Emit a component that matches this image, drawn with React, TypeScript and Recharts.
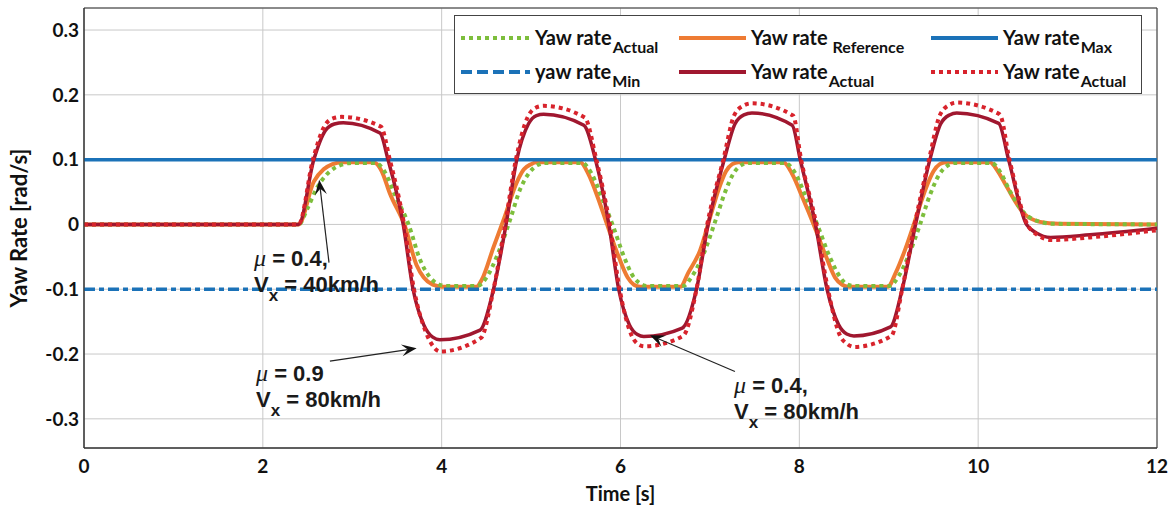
import React from 'react';
import {
    LineChart,
    Line,
    XAxis,
    YAxis,
    CartesianGrid,
    ReferenceLine,
    ReferenceArea,
} from 'recharts';

// ---- axes ----
const xTicks = [0, 2, 4, 6, 8, 10, 12];
const yTicks = [-0.3, -0.2, -0.1, 0, 0.1, 0.2, 0.3];
const yDomain = [-0.345, 0.334];

// ---- limits ----
const limitTime = [0, 12];
const maxRate = [0.1, 0.1];
const minRate = [-0.1, -0.1];

// ---- reference yaw rate (orange) ----
const refTime = [0, 2.4, 2.57, 2.68, 2.78, 2.88, 3.24, 3.33, 3.42, 3.59, 3.72, 3.8, 3.9, 4.0, 4.39, 4.45, 4.58, 4.7, 4.84, 4.92, 5.0, 5.06, 5.55, 5.64, 5.75, 5.85, 5.98, 6.08, 6.15, 6.22, 6.67, 6.76, 6.89, 7.0, 7.1, 7.18, 7.25, 7.32, 7.82, 7.92, 8.04, 8.16, 8.3, 8.4, 8.48, 8.55, 8.99, 9.08, 9.18, 9.28, 9.4, 9.5, 9.57, 9.64, 10.13, 10.22, 10.32, 10.51, 10.69, 10.9, 12];
const refRate = [0, 0, 0.066, 0.085, 0.093, 0.096, 0.096, 0.082, 0.048, -0.003, -0.063, -0.082, -0.093, -0.096, -0.096, -0.085, -0.035, 0.01, 0.065, 0.085, 0.093, 0.096, 0.096, 0.078, 0.04, 0.0, -0.05, -0.082, -0.093, -0.096, -0.096, -0.074, -0.04, 0.01, 0.055, 0.082, 0.093, 0.096, 0.096, 0.078, 0.04, 0.0, -0.05, -0.082, -0.093, -0.096, -0.096, -0.074, -0.04, 0.0, 0.05, 0.082, 0.093, 0.096, 0.096, 0.082, 0.058, 0.017, 0.004, 0.001, 0];

// ---- actual, mu 0.4 / 40 km/h (green dotted) ----
const greenTime = [0, 2.4, 2.5, 2.6, 2.7, 2.8, 2.9, 3.0, 3.26, 3.36, 3.48, 3.63, 3.76, 3.86, 3.96, 4.05, 4.4, 4.5, 4.63, 4.76, 4.88, 4.98, 5.08, 5.16, 5.57, 5.67, 5.79, 5.91, 6.04, 6.14, 6.23, 6.3, 6.7, 6.8, 6.93, 7.06, 7.17, 7.26, 7.36, 7.45, 7.84, 7.95, 8.08, 8.2, 8.34, 8.45, 8.54, 8.62, 9.01, 9.11, 9.23, 9.35, 9.46, 9.56, 9.66, 9.75, 10.15, 10.25, 10.36, 10.5, 10.65, 10.85, 12];
const greenRate = [0, 0, 0.025, 0.055, 0.075, 0.087, 0.093, 0.095, 0.095, 0.082, 0.045, 0.0, -0.055, -0.08, -0.092, -0.095, -0.095, -0.082, -0.045, 0.005, 0.055, 0.08, 0.092, 0.095, 0.095, 0.08, 0.042, 0.0, -0.05, -0.08, -0.092, -0.095, -0.095, -0.08, -0.045, 0.005, 0.05, 0.078, 0.092, 0.095, 0.095, 0.08, 0.04, 0.0, -0.05, -0.08, -0.093, -0.095, -0.095, -0.08, -0.045, 0.0, 0.045, 0.076, 0.091, 0.095, 0.095, 0.08, 0.05, 0.02, 0.006, 0.001, 0];

// ---- actual, mu 0.9 / 80 km/h (dark red) ----
const darkTime = [0, 2.4, 2.57, 2.7, 2.8, 2.9, 3.31, 3.4, 3.57, 3.68, 3.8, 3.9, 3.98, 4.43, 4.58, 4.72, 4.84, 4.97, 5.06, 5.14, 5.59, 5.72, 5.87, 5.98, 6.1, 6.19, 6.26, 6.69, 6.85, 6.98, 7.16, 7.28, 7.38, 7.47, 7.92, 8.01, 8.18, 8.31, 8.44, 8.53, 8.61, 9.02, 9.15, 9.3, 9.46, 9.58, 9.68, 9.76, 10.23, 10.34, 10.54, 10.65, 10.81, 11.25, 12];
const darkRate = [0, 0, 0.1, 0.145, 0.155, 0.157, 0.141, 0.1, 0.0, -0.1, -0.155, -0.174, -0.178, -0.163, -0.1, 0.0, 0.1, 0.155, 0.168, 0.17, 0.153, 0.1, 0.0, -0.1, -0.155, -0.17, -0.173, -0.16, -0.1, 0.0, 0.1, 0.155, 0.169, 0.172, 0.153, 0.1, 0.0, -0.1, -0.155, -0.169, -0.172, -0.158, -0.1, 0.0, 0.1, 0.155, 0.169, 0.172, 0.156, 0.1, 0.0, -0.013, -0.02, -0.016, -0.006];

// ---- actual, mu 0.4 / 80 km/h (red dotted) ----
const redTime = [0, 2.4, 2.56, 2.69, 2.79, 2.88, 3.32, 3.42, 3.58, 3.69, 3.82, 3.91, 3.98, 4.44, 4.58, 4.71, 4.83, 4.96, 5.05, 5.14, 5.6, 5.73, 5.88, 5.99, 6.12, 6.2, 6.27, 6.7, 6.85, 6.97, 7.15, 7.27, 7.37, 7.47, 7.93, 8.02, 8.19, 8.32, 8.45, 8.54, 8.61, 9.03, 9.15, 9.29, 9.45, 9.57, 9.67, 9.76, 10.24, 10.35, 10.55, 10.66, 10.82, 11.25, 12];
const redRate = [0, 0, 0.1, 0.152, 0.164, 0.166, 0.151, 0.1, 0.0, -0.1, -0.165, -0.189, -0.196, -0.175, -0.1, 0.0, 0.1, 0.165, 0.18, 0.183, 0.165, 0.1, 0.0, -0.1, -0.17, -0.185, -0.188, -0.172, -0.1, 0.0, 0.1, 0.168, 0.183, 0.187, 0.168, 0.1, 0.0, -0.1, -0.17, -0.185, -0.189, -0.172, -0.1, 0.0, 0.1, 0.168, 0.184, 0.188, 0.17, 0.1, 0.0, -0.016, -0.024, -0.02, -0.009];

const zip = (ts: number[], vs: number[]) => ts.map((t, i) => ({ t, v: vs[i] }));

const COLORS = {
    green: '#7DBE3C',
    orange: '#EE7B33',
    blue: '#1B72B8',
    dark: '#A0172F',
    red: '#D8232C',
};

const LABEL_FONT = 'Lato, "Open Sans", sans-serif';
const NOTE_FONT = '"Liberation Sans", Arial, sans-serif';

/**
 * Arrow shape for annotation segments
 */
function Arrow(props: any) {
    const { x1, y1, x2, y2 } = props;
    const dx = x2 - x1;
    const dy = y2 - y1;
    const len = Math.sqrt(dx * dx + dy * dy) || 1;
    const ux = dx / len;
    const uy = dy / len;
    const L = 15;
    const Wd = 6;
    const bx = x2 - ux * L;
    const by = y2 - uy * L;
    const nx = x2 - ux * (L * 0.6);
    const ny = y2 - uy * (L * 0.6);
    const pts = [
        `${x2},${y2}`,
        `${bx - uy * Wd},${by + ux * Wd}`,
        `${nx},${ny}`,
        `${bx + uy * Wd},${by - ux * Wd}`,
    ].join(' ');
    return (
        <g>
            <line x1={x1} y1={y1} x2={nx} y2={ny} stroke="#222" strokeWidth={1.2} />
            <polygon points={pts} fill="#111" />
        </g>
    );
}

const arrows = [
    { from: { x: 2.74, y: -0.059 }, to: { x: 2.63, y: 0.069 } },
    { from: { x: 2.75, y: -0.211 }, to: { x: 3.72, y: -0.191 } },
    { from: { x: 7.28, y: -0.227 }, to: { x: 6.33, y: -0.171 } },
];

function Note({ left, top, mu, speed }: { left: number; top: number; mu: string; speed: string }) {
    return (
        <div style={{ position: 'absolute', left, top, fontFamily: NOTE_FONT, fontWeight: 700, fontSize: 22, lineHeight: '26px', color: '#1a1a1a', whiteSpace: 'nowrap' }}>
            <div>
                <span style={{ fontFamily: '"Liberation Serif", serif', fontStyle: 'italic', fontWeight: 400, fontSize: 24 }}>μ</span>
                {` = ${mu}`}
            </div>
            <div>
                V<span style={{ fontSize: 17, position: 'relative', top: 9 }}>x</span>{` = ${speed}`}
            </div>
        </div>
    );
}

function LegendItem({ left, top, lineLen, stroke, dash, width, main, sub }: any) {
    return (
        <div style={{ position: 'absolute', left, top: top - 15, height: 30, display: 'flex', alignItems: 'center', whiteSpace: 'nowrap' }}>
            <svg width={lineLen} height={30}>
                <line x1={0} y1={15} x2={lineLen} y2={15} stroke={stroke} strokeWidth={width} strokeDasharray={dash} />
            </svg>
            <span style={{ marginLeft: 5, fontFamily: LABEL_FONT, fontWeight: 700, fontSize: 20, lineHeight: '30px', color: '#111' }}>
                {main}
                <span style={{ fontSize: 16, position: 'relative', top: 8, marginLeft: 1 }}>{sub}</span>
            </span>
        </div>
    );
}

export default function App() {
    const tick = { fontFamily: LABEL_FONT, fontWeight: 700, fontSize: 19, fill: '#111' };
    return (
        <div style={{ position: 'absolute', left: 0, top: 0, width: 1174, height: 506, background: '#fff' }}>
            <LineChart width={1174} height={506} margin={{ top: 8, right: 17, left: 0, bottom: 0 }}>
                <CartesianGrid stroke="#c8c8c8" strokeWidth={1} />
                <XAxis
                    dataKey="t"
                    type="number"
                    domain={[0, 12]}
                    ticks={xTicks}
                    height={58}
                    tickLine={false}
                    tickSize={0}
                    tickMargin={12}
                    axisLine={{ stroke: '#333' }}
                    tick={tick}
                    label={{ value: 'Time [s]', position: 'insideBottom', offset: 5, style: { fontFamily: LABEL_FONT, fontWeight: 700, fontSize: 20, fill: '#111' } }}
                />
                <YAxis
                    dataKey="v"
                    type="number"
                    domain={yDomain}
                    allowDataOverflow
                    ticks={yTicks}
                    width={84}
                    tickLine={false}
                    tickSize={0}
                    tickMargin={5}
                    axisLine={{ stroke: '#333' }}
                    tick={tick}
                    tickFormatter={(v: number) => (Math.abs(v) < 1e-9 ? '0' : v.toFixed(1))}
                    label={{ value: 'Yaw Rate [rad/s]', angle: -90, position: 'insideLeft', offset: 19, style: { textAnchor: 'middle', fontFamily: LABEL_FONT, fontWeight: 700, fontSize: 22, fill: '#111' } }}
                />
                <ReferenceArea x1={0} x2={12} y1={yDomain[0]} y2={yDomain[1]} fill="none" stroke="#333" strokeWidth={1} ifOverflow="visible" />

                <Line data={zip(refTime, refRate)} dataKey="v" type="monotone" stroke={COLORS.orange} strokeWidth={4} dot={false} isAnimationActive={false} />
                <Line data={zip(greenTime, greenRate)} dataKey="v" type="monotone" stroke={COLORS.green} strokeWidth={4} strokeDasharray="4 4" dot={false} isAnimationActive={false} />
                <Line data={zip(limitTime, maxRate)} dataKey="v" type="linear" stroke={COLORS.blue} strokeWidth={3.5} dot={false} isAnimationActive={false} />
                <Line data={zip(limitTime, minRate)} dataKey="v" type="linear" stroke={COLORS.blue} strokeWidth={3.5} strokeDasharray="11 4 5 4" dot={false} isAnimationActive={false} />
                <Line data={zip(darkTime, darkRate)} dataKey="v" type="monotone" stroke={COLORS.dark} strokeWidth={3.5} dot={false} isAnimationActive={false} />
                <Line data={zip(redTime, redRate)} dataKey="v" type="monotone" stroke={COLORS.red} strokeWidth={4} strokeDasharray="4 4" dot={false} isAnimationActive={false} />

                {arrows.map((a, i) => (
                    <ReferenceLine key={i} segment={[a.from, a.to]} ifOverflow="visible" shape={(p: any) => <Arrow {...p} />} />
                ))}
            </LineChart>

            {/* Legend */}
            <div style={{ position: 'absolute', left: 454, top: 15, width: 688, height: 79, border: '1px solid #444', background: '#fff', boxSizing: 'border-box' }} />
            <LegendItem left={461} top={38} lineLen={69} stroke={COLORS.green} dash="4 4" width={4} main="Yaw rate" sub="Actual" />
            <LegendItem left={679} top={38} lineLen={67} stroke={COLORS.orange} width={4} main="Yaw rate" sub=" Reference" />
            <LegendItem left={931} top={38} lineLen={67} stroke={COLORS.blue} width={4} main="Yaw rate" sub="Max" />
            <LegendItem left={461} top={72} lineLen={69} stroke={COLORS.blue} dash="11 5" width={4} main="yaw rate" sub="Min" />
            <LegendItem left={679} top={72} lineLen={67} stroke={COLORS.dark} width={4} main="Yaw rate" sub="Actual" />
            <LegendItem left={931} top={72} lineLen={67} stroke={COLORS.red} dash="4 4" width={4} main="Yaw rate" sub="Actual" />

            {/* Annotations */}
            <Note left={254} top={245} mu="0.4," speed="40km/h" />
            <Note left={256} top={360} mu="0.9" speed="80km/h" />
            <Note left={734} top={372} mu="0.4," speed="80km/h" />
        </div>
    );
}
